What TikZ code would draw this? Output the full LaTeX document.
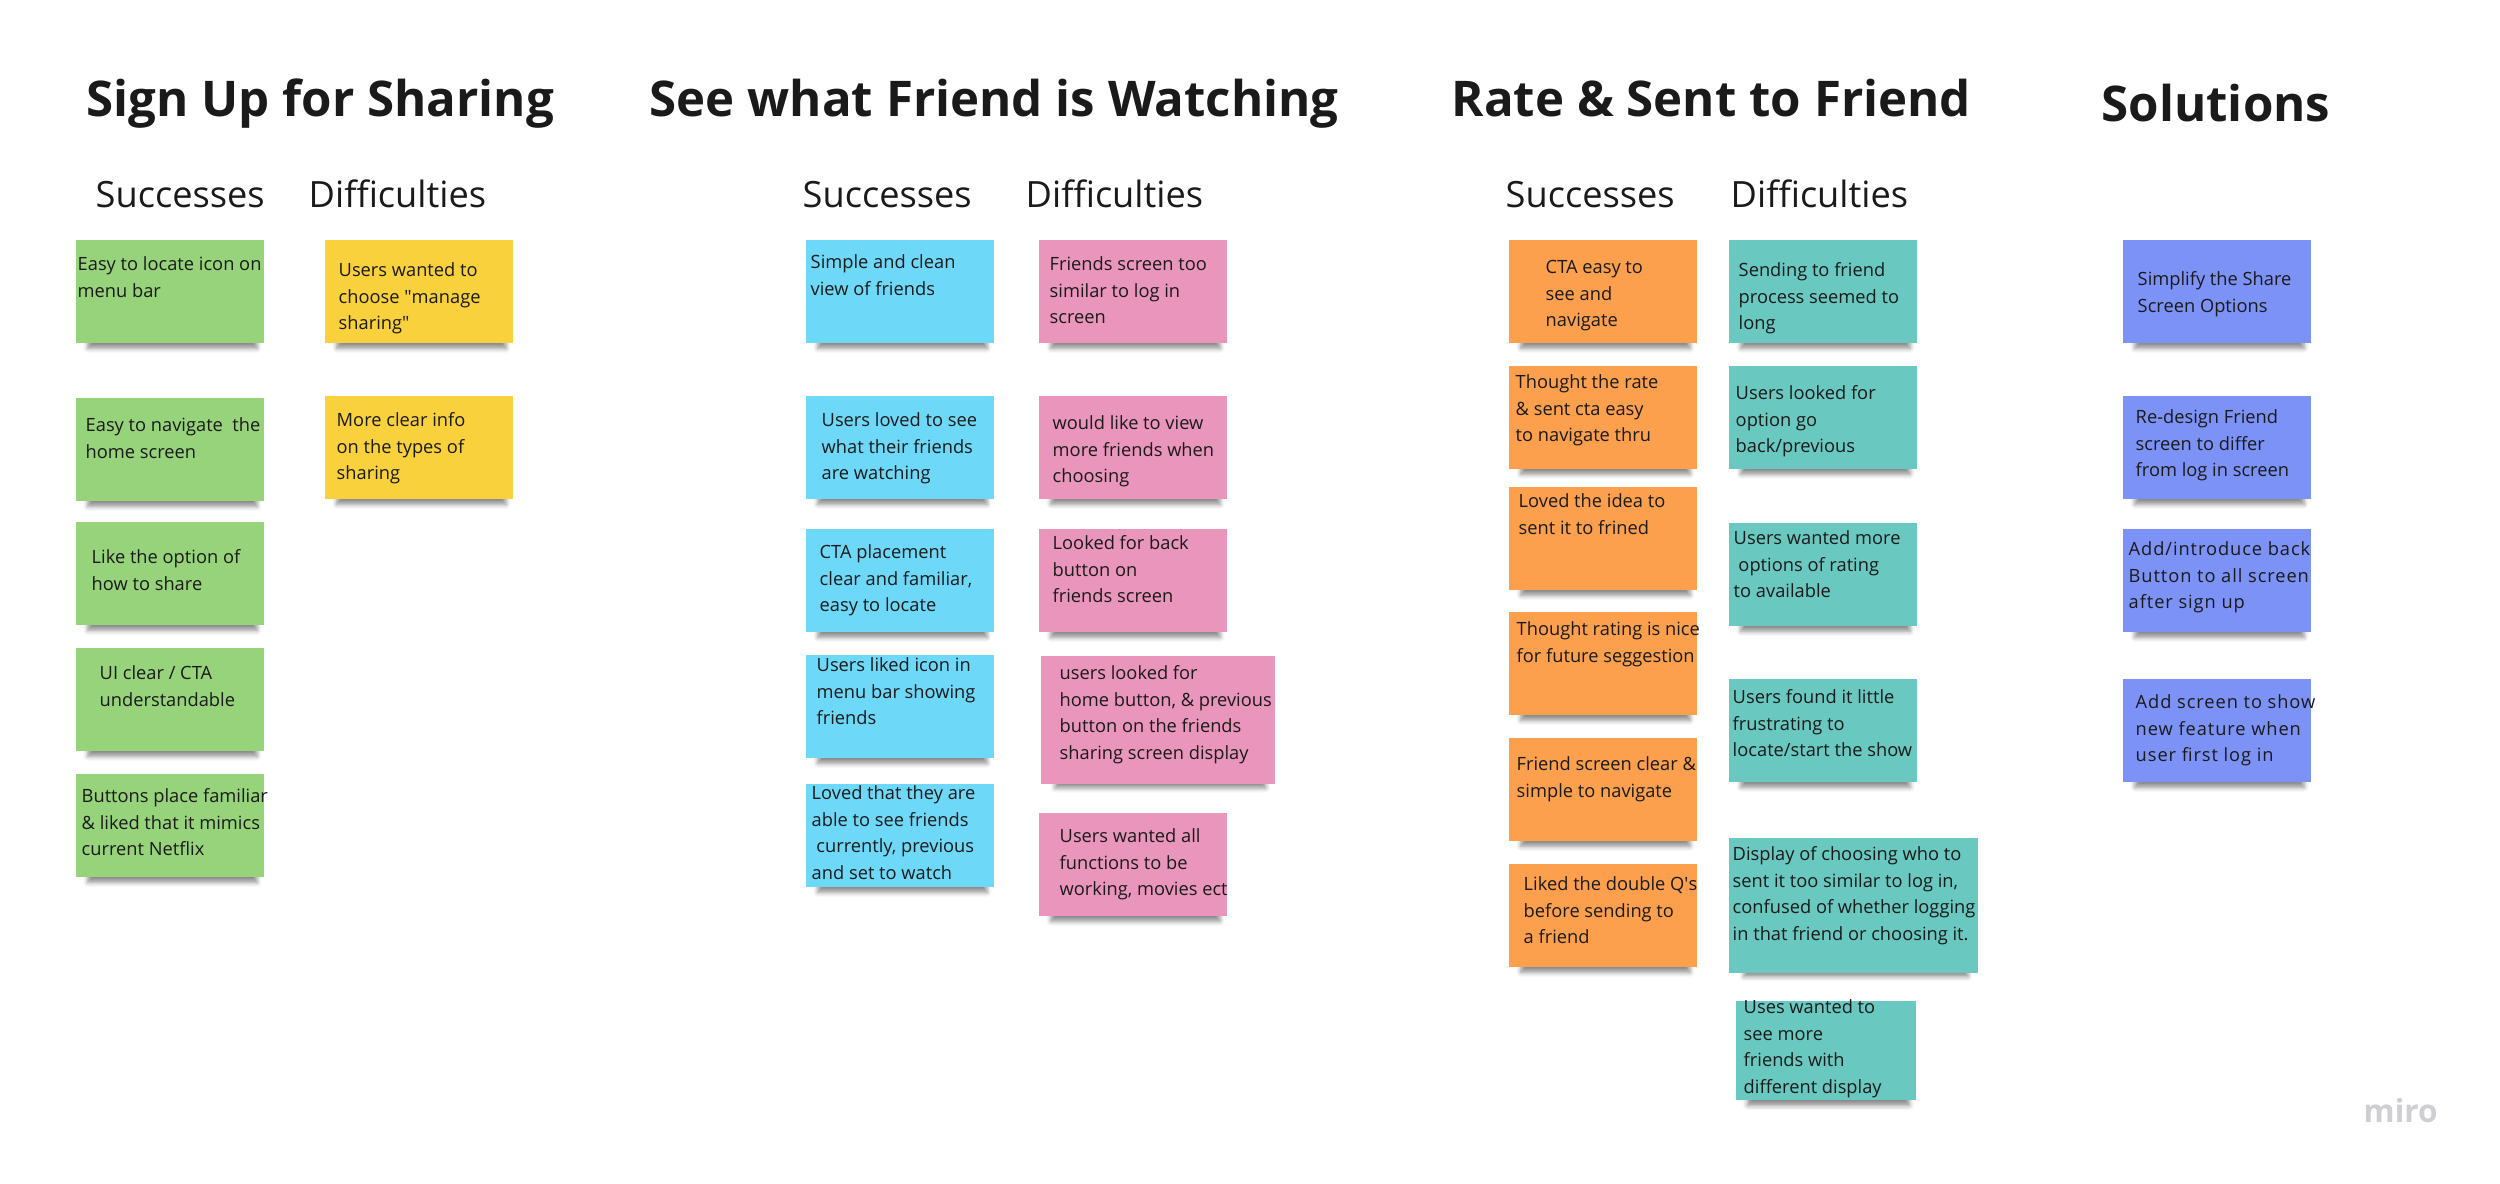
\documentclass[tikz,border=0pt]{standalone}
\usepackage{fontspec}
\setmainfont{Open Sans}
\newfontfamily\widefont[LetterSpace=5]{Open Sans}
\usetikzlibrary{positioning,shadows.blur}
\definecolor{ink}{HTML}{1A1A1A}
\definecolor{sgreen}{HTML}{97D37A}
\definecolor{syellow}{HTML}{F8D13C}
\definecolor{sblue}{HTML}{6DD8F8}
\definecolor{spink}{HTML}{EA96BC}
\definecolor{sorange}{HTML}{FCA04E}
\definecolor{steal}{HTML}{69C8C0}
\definecolor{sviolet}{HTML}{7C92F7}
\definecolor{logo}{HTML}{CFCFD3}

\begin{document}
\begin{tikzpicture}[y=-1cm,
  title/.style={anchor=base west, inner sep=0pt, text=ink, font=\fontsize{14}{16}\selectfont\bfseries},
  head/.style={anchor=base west, inner sep=0pt, text=ink, font=\fontsize{10.3}{12}\selectfont},
  sticky/.style={anchor=north west, inner sep=0pt, minimum width=1.88cm, minimum height=1.03cm,
    blur shadow={shadow xshift=0.03cm, shadow yshift=-0.12cm, shadow scale=0.9,
                 shadow blur radius=0.05cm, shadow opacity=45}},
  note/.style={anchor=north west, inner sep=0pt, align=left, text=ink, font=\fontsize{5.2}{7.54}\selectfont},
]
  \useasboundingbox (0,0) rectangle (25,11.84);

  % Sign Up for Sharing
  \node[title] (t1) at (0.86,1.17) {Sign Up for Sharing};
  \node[head] (h1s) at (0.95,2.08) {Successes};
  \node[head] (h1d) at (3.08,2.08) {Difficulties};
  \node[sticky, fill=sgreen] (g1) at (0.75,2.39) {};
  \node[note] (g1t) at ([shift={(0.02,0.17)}]g1.north west) {Easy to locate icon on\\menu bar};
  \node[sticky, fill=sgreen] (g2) at (0.75,3.97) {};
  \node[note] (g2t) at ([shift={(0.10,0.20)}]g2.north west) {Easy to navigate\ \ the\\home screen};
  \node[sticky, fill=sgreen] (g3) at (0.75,5.21) {};
  \node[note] (g3t) at ([shift={(0.16,0.28)}]g3.north west) {Like the option of\\how to share};
  \node[sticky, fill=sgreen] (g4) at (0.75,6.47) {};
  \node[note] (g4t) at ([shift={(0.24,0.18)}]g4.north west) {UI clear / CTA\\understandable};
  \node[sticky, fill=sgreen] (g5) at (0.75,7.73) {};
  \node[note] (g5t) at ([shift={(0.06,0.15)}]g5.north west) {Buttons place familiar\\\& liked that it mimics\\current Netflix};
  \node[sticky, fill=syellow] (y1) at (3.24,2.39) {};
  \node[note] (y1t) at ([shift={(0.14,0.23)}]y1.north west) {Users wanted to\\choose \textquotedbl manage\\sharing\textquotedbl};
  \node[sticky, fill=syellow] (y2) at (3.24,3.95) {};
  \node[note] (y2t) at ([shift={(0.12,0.17)}]y2.north west) {More clear info\\on the types of\\sharing};

  % See what Friend is Watching
  \node[title] (t2) at (6.49,1.17) {See what Friend is Watching};
  \node[head] (h2s) at (8.02,2.08) {Successes};
  \node[head] (h2d) at (10.25,2.08) {Difficulties};
  \node[sticky, fill=sblue] (b1) at (8.05,2.39) {};
  \node[note] (b1t) at ([shift={(0.05,0.15)}]b1.north west) {Simple and clean\\view of friends};
  \node[sticky, fill=sblue] (b2) at (8.05,3.95) {};
  \node[note] (b2t) at ([shift={(0.16,0.17)}]b2.north west) {Users loved to see\\what their friends\\are watching};
  \node[sticky, fill=sblue] (b3) at (8.05,5.28) {};
  \node[note] (b3t) at ([shift={(0.14,0.16)}]b3.north west) {CTA placement\\clear and familiar,\\easy to locate};
  \node[sticky, fill=sblue] (b4) at (8.05,6.54) {};
  \node[note] (b4t) at ([shift={(0.11,0.03)}]b4.north west) {Users liked icon in\\menu bar showing\\friends};
  \node[sticky, fill=sblue] (b5) at (8.05,7.83) {};
  \node[note] (b5t) at ([shift={(0.06,0.02)}]b5.north west) {Loved that they are\\able to see friends\\\ currently, previous\\and set to watch};
  \node[sticky, fill=spink] (p1) at (10.38,2.39) {};
  \node[note] (p1t) at ([shift={(0.11,0.17)}]p1.north west) {Friends screen too\\similar to log in\\screen};
  \node[sticky, fill=spink] (p2) at (10.38,3.95) {};
  \node[note] (p2t) at ([shift={(0.14,0.20)}]p2.north west) {would like to view\\more friends when\\choosing};
  \node[sticky, fill=spink] (p3) at (10.38,5.28) {};
  \node[note] (p3t) at ([shift={(0.14,0.07)}]p3.north west) {Looked for back\\button on\\friends screen};
  \node[sticky, fill=spink, minimum width=2.34cm, minimum height=1.28cm] (p4) at (10.40,6.55) {};
  \node[note] (p4t) at ([shift={(0.19,0.10)}]p4.north west) {users looked for\\home button, \& previous\\button on the friends\\sharing screen display};
  \node[sticky, fill=spink] (p5) at (10.38,8.12) {};
  \node[note] (p5t) at ([shift={(0.21,0.16)}]p5.north west) {Users wanted all\\functions to be\\working, movies ect};

  % Rate & Sent to Friend
  \node[title] (t3) at (14.51,1.17) {Rate \& Sent to Friend};
  \node[head] (h3s) at (15.05,2.08) {Successes};
  \node[head] (h3d) at (17.30,2.08) {Difficulties};
  \node[sticky, fill=sorange] (o1) at (15.08,2.39) {};
  \node[note] (o1t) at ([shift={(0.37,0.21)}]o1.north west) {CTA easy to\\see and\\navigate};
  \node[sticky, fill=sorange] (o2) at (15.08,3.65) {};
  \node[note] (o2t) at ([shift={(0.07,0.09)}]o2.north west) {Thought the rate\\\& sent cta easy\\to navigate thru};
  \node[sticky, fill=sorange] (o3) at (15.08,4.86) {};
  \node[note] (o3t) at ([shift={(0.10,0.07)}]o3.north west) {Loved the idea to\\sent it to frined};
  \node[sticky, fill=sorange] (o4) at (15.08,6.11) {};
  \node[note] (o4t) at ([shift={(0.08,0.10)}]o4.north west) {Thought rating is nice\\for future seggestion};
  \node[sticky, fill=sorange] (o5) at (15.08,7.37) {};
  \node[note] (o5t) at ([shift={(0.08,0.19)}]o5.north west) {Friend screen clear \&\\simple to navigate};
  \node[sticky, fill=sorange] (o6) at (15.08,8.63) {};
  \node[note] (o6t) at ([shift={(0.15,0.13)}]o6.north west) {Liked the double Q\textquotesingle s\\before sending to\\a friend};
  \node[sticky, fill=steal] (c1) at (17.28,2.39) {};
  \node[note] (c1t) at ([shift={(0.10,0.23)}]c1.north west) {Sending to friend\\process seemed to\\long};
  \node[sticky, fill=steal] (c2) at (17.28,3.65) {};
  \node[note] (c2t) at ([shift={(0.07,0.20)}]c2.north west) {Users looked for\\option go\\back/previous};
  \node[sticky, fill=steal] (c3) at (17.28,5.22) {};
  \node[note] (c3t) at ([shift={(0.05,0.08)}]c3.north west) {Users wanted more\\\ options of rating\\to available};
  \node[sticky, fill=steal] (c4) at (17.28,6.78) {};
  \node[note] (c4t) at ([shift={(0.04,0.11)}]c4.north west) {Users found it little\\frustrating to\\locate/start the show};
  \node[sticky, fill=steal, minimum width=2.49cm, minimum height=1.35cm] (c5) at (17.28,8.37) {};
  \node[note] (c5t) at ([shift={(0.04,0.09)}]c5.north west) {Display of choosing who to\\sent it too similar to log in,\\confused of whether logging\\in that friend or choosing it.};
  \node[sticky, fill=steal, minimum width=1.80cm, minimum height=0.99cm] (c6) at (17.35,10.00) {};
  \node[note] (c6t) at ([shift={(0.08,-0.01)}]c6.north west) {Uses wanted to\\see more\\friends with\\different display};

  % Solutions
  \node[title] (t4) at (21.01,1.22) {Solutions};
  \node[sticky, fill=sviolet] (v1) at (21.22,2.39) {};
  \node[note] (v1t) at ([shift={(0.15,0.32)}]v1.north west) {Simplify the Share\\Screen Options};
  \node[sticky, fill=sviolet] (v2) at (21.22,3.95) {};
  \node[note] (v2t) at ([shift={(0.13,0.14)}]v2.north west) {Re-design Friend\\screen to differ\\from log in screen};
  \node[sticky, fill=sviolet] (v3) at (21.22,5.28) {};
  \node[note, font=\fontsize{5.2}{7.54}\widefont] (v3t) at ([shift={(0.06,0.13)}]v3.north west) {Add/introduce back\\Button to all screen\\after sign up};
  \node[sticky, fill=sviolet] (v4) at (21.22,6.78) {};
  \node[note, font=\fontsize{5.2}{7.54}\widefont] (v4t) at ([shift={(0.13,0.16)}]v4.north west) {Add screen to show\\new feature when\\user first log in};

  \node[anchor=base west, inner sep=0pt, text=logo, font=\fontsize{9}{10}\selectfont\bfseries] (brand) at (23.63,11.22) {miro};
\end{tikzpicture}
\end{document}
